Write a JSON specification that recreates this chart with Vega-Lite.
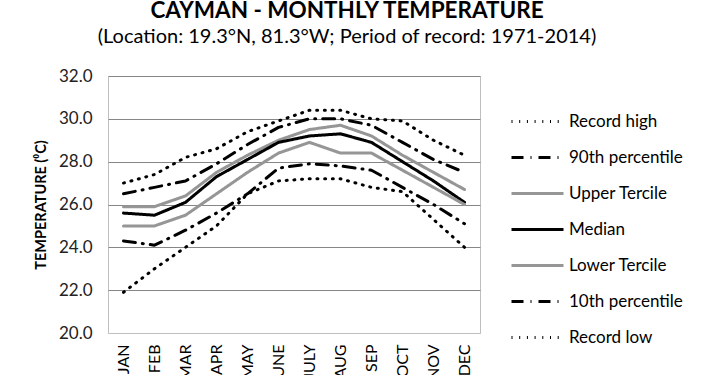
{
  "$schema": "https://vega.github.io/schema/vega-lite/v6.json",
  "width": 372,
  "height": 257,
  "autosize": {"type": "none"},
  "padding": {"left": 108, "top": 76, "right": 230, "bottom": 42},
  "background": "white",
  "title": {
    "text": "CAYMAN - MONTHLY TEMPERATURE",
    "subtitle": "(Location: 19.3°N, 81.3°W; Period of record: 1971-2014)",
    "font": "Lato", "fontSize": 22.5, "fontWeight": "bold", "color": "black",
    "subtitleFont": "Lato", "subtitleFontSize": 20, "subtitleColor": "black",
    "anchor": "middle", "dx": 53, "offset": 20, "subtitlePadding": 5
  },
  "datasets": {
    "t": [
      {"month": "JAN", "series": "Record high", "temp": 27.0},
      {"month": "FEB", "series": "Record high", "temp": 27.4},
      {"month": "MAR", "series": "Record high", "temp": 28.2},
      {"month": "APR", "series": "Record high", "temp": 28.6},
      {"month": "MAY", "series": "Record high", "temp": 29.4},
      {"month": "JUNE", "series": "Record high", "temp": 29.9},
      {"month": "JULY", "series": "Record high", "temp": 30.4},
      {"month": "AUG", "series": "Record high", "temp": 30.4},
      {"month": "SEP", "series": "Record high", "temp": 30.0},
      {"month": "OCT", "series": "Record high", "temp": 29.9},
      {"month": "NOV", "series": "Record high", "temp": 29.0},
      {"month": "DEC", "series": "Record high", "temp": 28.3},
      {"month": "JAN", "series": "90th percentile", "temp": 26.5},
      {"month": "FEB", "series": "90th percentile", "temp": 26.8},
      {"month": "MAR", "series": "90th percentile", "temp": 27.1},
      {"month": "APR", "series": "90th percentile", "temp": 27.9},
      {"month": "MAY", "series": "90th percentile", "temp": 28.8},
      {"month": "JUNE", "series": "90th percentile", "temp": 29.6},
      {"month": "JULY", "series": "90th percentile", "temp": 30.0},
      {"month": "AUG", "series": "90th percentile", "temp": 30.0},
      {"month": "SEP", "series": "90th percentile", "temp": 29.7},
      {"month": "OCT", "series": "90th percentile", "temp": 28.9},
      {"month": "NOV", "series": "90th percentile", "temp": 28.1},
      {"month": "DEC", "series": "90th percentile", "temp": 27.5},
      {"month": "JAN", "series": "Upper Tercile", "temp": 25.9},
      {"month": "FEB", "series": "Upper Tercile", "temp": 25.9},
      {"month": "MAR", "series": "Upper Tercile", "temp": 26.4},
      {"month": "APR", "series": "Upper Tercile", "temp": 27.5},
      {"month": "MAY", "series": "Upper Tercile", "temp": 28.3},
      {"month": "JUNE", "series": "Upper Tercile", "temp": 29.0},
      {"month": "JULY", "series": "Upper Tercile", "temp": 29.5},
      {"month": "AUG", "series": "Upper Tercile", "temp": 29.7},
      {"month": "SEP", "series": "Upper Tercile", "temp": 29.2},
      {"month": "OCT", "series": "Upper Tercile", "temp": 28.3},
      {"month": "NOV", "series": "Upper Tercile", "temp": 27.5},
      {"month": "DEC", "series": "Upper Tercile", "temp": 26.7},
      {"month": "JAN", "series": "Median", "temp": 25.6},
      {"month": "FEB", "series": "Median", "temp": 25.5},
      {"month": "MAR", "series": "Median", "temp": 26.1},
      {"month": "APR", "series": "Median", "temp": 27.3},
      {"month": "MAY", "series": "Median", "temp": 28.1},
      {"month": "JUNE", "series": "Median", "temp": 28.9},
      {"month": "JULY", "series": "Median", "temp": 29.2},
      {"month": "AUG", "series": "Median", "temp": 29.3},
      {"month": "SEP", "series": "Median", "temp": 28.9},
      {"month": "OCT", "series": "Median", "temp": 28.0},
      {"month": "NOV", "series": "Median", "temp": 27.1},
      {"month": "DEC", "series": "Median", "temp": 26.1},
      {"month": "JAN", "series": "Lower Tercile", "temp": 25.0},
      {"month": "FEB", "series": "Lower Tercile", "temp": 25.0},
      {"month": "MAR", "series": "Lower Tercile", "temp": 25.5},
      {"month": "APR", "series": "Lower Tercile", "temp": 26.5},
      {"month": "MAY", "series": "Lower Tercile", "temp": 27.5},
      {"month": "JUNE", "series": "Lower Tercile", "temp": 28.4},
      {"month": "JULY", "series": "Lower Tercile", "temp": 28.9},
      {"month": "AUG", "series": "Lower Tercile", "temp": 28.4},
      {"month": "SEP", "series": "Lower Tercile", "temp": 28.4},
      {"month": "OCT", "series": "Lower Tercile", "temp": 27.6},
      {"month": "NOV", "series": "Lower Tercile", "temp": 26.8},
      {"month": "DEC", "series": "Lower Tercile", "temp": 26.0},
      {"month": "JAN", "series": "10th percentile", "temp": 24.3},
      {"month": "FEB", "series": "10th percentile", "temp": 24.1},
      {"month": "MAR", "series": "10th percentile", "temp": 24.8},
      {"month": "APR", "series": "10th percentile", "temp": 25.6},
      {"month": "MAY", "series": "10th percentile", "temp": 26.5},
      {"month": "JUNE", "series": "10th percentile", "temp": 27.7},
      {"month": "JULY", "series": "10th percentile", "temp": 27.9},
      {"month": "AUG", "series": "10th percentile", "temp": 27.8},
      {"month": "SEP", "series": "10th percentile", "temp": 27.6},
      {"month": "OCT", "series": "10th percentile", "temp": 26.8},
      {"month": "NOV", "series": "10th percentile", "temp": 26.0},
      {"month": "DEC", "series": "10th percentile", "temp": 25.1},
      {"month": "JAN", "series": "Record low", "temp": 21.9},
      {"month": "FEB", "series": "Record low", "temp": 23.0},
      {"month": "MAR", "series": "Record low", "temp": 24.0},
      {"month": "APR", "series": "Record low", "temp": 25.0},
      {"month": "MAY", "series": "Record low", "temp": 26.5},
      {"month": "JUNE", "series": "Record low", "temp": 27.1},
      {"month": "JULY", "series": "Record low", "temp": 27.2},
      {"month": "AUG", "series": "Record low", "temp": 27.2},
      {"month": "SEP", "series": "Record low", "temp": 26.8},
      {"month": "OCT", "series": "Record low", "temp": 26.6},
      {"month": "NOV", "series": "Record low", "temp": 25.3},
      {"month": "DEC", "series": "Record low", "temp": 24.0}
    ]
  },
  "data": {"name": "t"},
  "mark": {"type": "line", "strokeCap": "round", "strokeJoin": "round"},
  "encoding": {
    "x": {
      "field": "month", "type": "ordinal",
      "sort": ["JAN","FEB","MAR","APR","MAY","JUNE","JULY","AUG","SEP","OCT","NOV","DEC"],
      "scale": {"type": "point", "padding": 0.5},
      "axis": {"title": null, "labelAngle": 270, "labelAlign": "right", "labelBaseline": "middle", "ticks": false, "domain": false, "grid": false, "labelPadding": 11, "labelFont": "Lato", "labelFontSize": 16, "labelColor": "black"}
    },
    "y": {
      "field": "temp", "type": "quantitative",
      "scale": {"domain": [20, 32], "nice": false, "zero": false},
      "axis": {
        "values": [20, 22, 24, 26, 28, 30, 32], "format": ".1f",
        "title": "TEMPERATURE (⁰C)", "titleFont": "Lato", "titleFontSize": 14.5, "titleFontWeight": "bold", "titleColor": "black", "titlePadding": 10,
        "labelFont": "Lato", "labelFontSize": 17, "labelColor": "#222222", "labelPadding": 16,
        "ticks": false, "domain": false,
        "gridColor": {"condition": {"test": "datum.value === 20", "value": "#BFBFBF"}, "value": "#868686"}
      }
    },
    "color": {
      "field": "series", "type": "nominal",
      "scale": {
        "domain": ["Record high", "90th percentile", "Upper Tercile", "Median", "Lower Tercile", "10th percentile", "Record low"],
        "range": ["black", "black", "#969696", "black", "#969696", "black", "black"]
      },
      "legend": {
        "title": null, "orient": "none", "legendX": 402, "legendY": 18,
        "symbolType": "stroke", "symbolSize": 2704, "rowPadding": -0.5, "padding": 0,
        "labelFont": "Lato", "labelFontSize": 17, "labelColor": "black", "labelOffset": 4
      }
    },
    "strokeDash": {
      "field": "series", "type": "nominal",
      "scale": {
        "domain": ["Record high", "90th percentile", "Upper Tercile", "Median", "Lower Tercile", "10th percentile", "Record low"],
        "range": [[1, 6.7], [12, 7, 1, 7], [1, 0], [1, 0], [1, 0], [12, 7, 1, 7], [1, 6.7]]
      }
    },
    "strokeWidth": {
      "field": "series", "type": "nominal",
      "scale": {
        "domain": ["Record high", "90th percentile", "Upper Tercile", "Median", "Lower Tercile", "10th percentile", "Record low"],
        "range": [3, 3, 3.5, 3, 3.5, 3, 3]
      }
    }
  },
  "config": {"view": {"stroke": "#BFBFBF"}}
}
